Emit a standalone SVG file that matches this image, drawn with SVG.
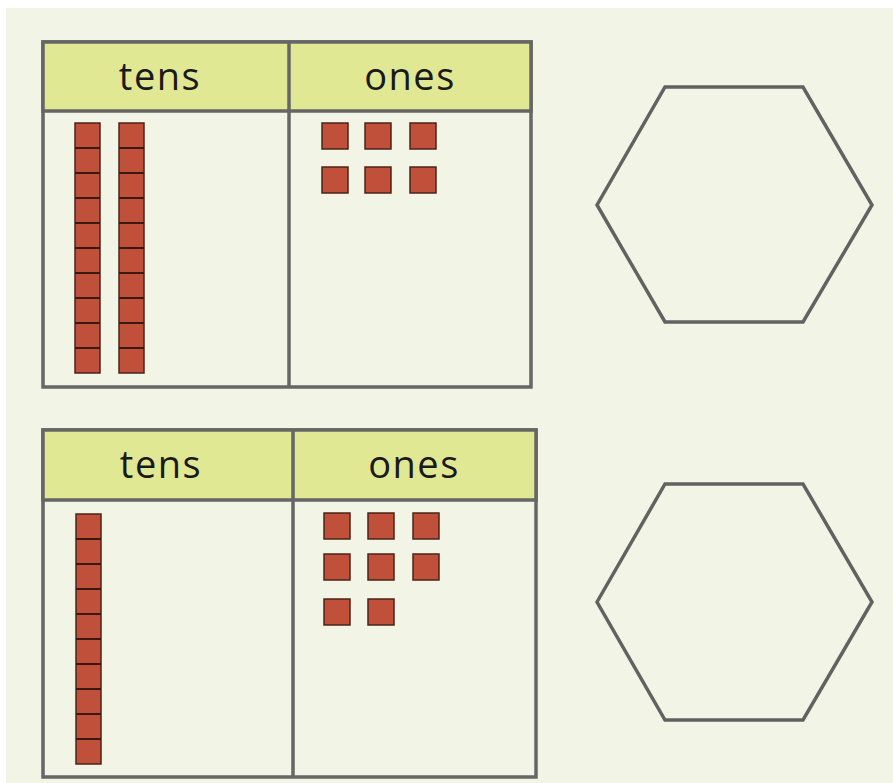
<svg xmlns="http://www.w3.org/2000/svg" xmlns:xlink="http://www.w3.org/1999/xlink" width="893" height="783" viewBox="0 0 893 783">
<style>
.frame{fill:#f2f5e6;stroke:#666;stroke-width:3.5}
.head{fill:#e1e893;stroke:#666;stroke-width:3.5}
.line{stroke:#666;stroke-width:3.5;fill:none}
.lbl{font-family:"Comic Sans MS","Open Sans","DejaVu Sans",sans-serif;font-size:38px;fill:#1a1a1a;text-anchor:middle;letter-spacing:1.5px}
.blk{fill:#c1503a;stroke:#4a2418;stroke-width:1.5}
.hex{fill:none;stroke:#626262;stroke-width:3.5;stroke-linejoin:miter}
</style>
<defs>
<g id="rod">
<rect class="blk" x="0" y="0" width="25" height="250"/>
<path d="M0 25H25M0 50H25M0 75H25M0 100H25M0 125H25M0 150H25M0 175H25M0 200H25M0 225H25" stroke="#3a1a10" stroke-width="2" fill="none"/>
</g>
<rect id="one" class="blk" x="0" y="0" width="26" height="26"/>
</defs>
<rect x="0" y="0" width="893" height="783" fill="#ffffff"/>
<rect x="6" y="8" width="887" height="775" fill="#f2f5e6"/>

<g id="table1">
<rect class="frame" x="43" y="42" width="488" height="345"/>
<rect class="head" x="43" y="42" width="488" height="69"/>
<line class="line" x1="289" y1="42" x2="289" y2="387"/>
<text class="lbl" x="160" y="90">tens</text>
<text class="lbl" x="410" y="90">ones</text>
<use xlink:href="#rod" x="75" y="123"/>
<use xlink:href="#rod" x="119" y="123"/>
<use xlink:href="#one" x="322" y="123"/>
<use xlink:href="#one" x="365" y="123"/>
<use xlink:href="#one" x="410" y="123"/>
<use xlink:href="#one" x="322" y="167"/>
<use xlink:href="#one" x="365" y="167"/>
<use xlink:href="#one" x="410" y="167"/>
</g>

<g id="table2">
<rect class="frame" x="43" y="430" width="493" height="347"/>
<rect class="head" x="43" y="430" width="493" height="70"/>
<line class="line" x1="293" y1="430" x2="293" y2="777"/>
<text class="lbl" x="161" y="478">tens</text>
<text class="lbl" x="414" y="478">ones</text>
<use xlink:href="#rod" x="76" y="514"/>
<use xlink:href="#one" x="324" y="513"/>
<use xlink:href="#one" x="368" y="513"/>
<use xlink:href="#one" x="413" y="513"/>
<use xlink:href="#one" x="324" y="554"/>
<use xlink:href="#one" x="368" y="554"/>
<use xlink:href="#one" x="413" y="554"/>
<use xlink:href="#one" x="324" y="599"/>
<use xlink:href="#one" x="368" y="599"/>
</g>

<g id="hex1">
<polygon class="hex" points="597,205 665,87 803,87 872,205 803,322 665,322"/>
</g>
<g id="hex2">
<polygon class="hex" points="597,602 665,484 803,484 872,602 803,720 665,720"/>
</g>
<g id="connectors"/>
</svg>
